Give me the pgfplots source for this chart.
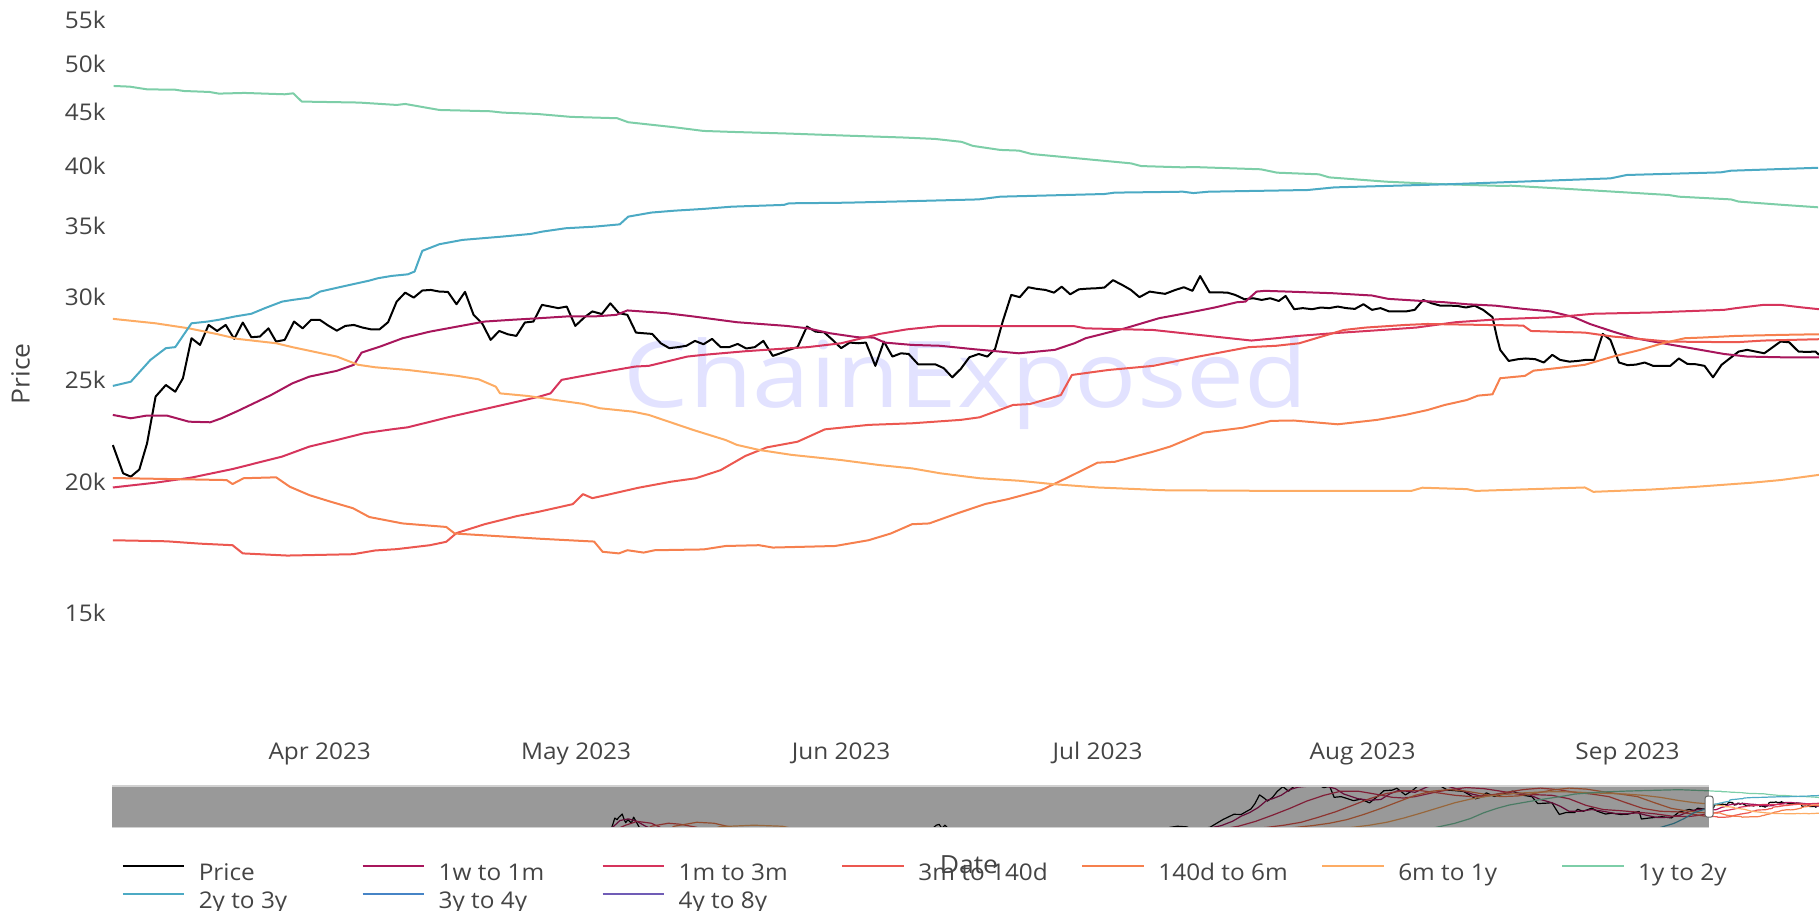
\documentclass[border=0pt]{standalone}
\usepackage{pgfplots}
\pgfplotsset{compat=1.18}
\usepackage{pgfplotstable}
\usepackage{graphicx}
\usepackage{fontspec}
\setmainfont{Open Sans}[FakeStretch=1.06]
\definecolor{txt}{RGB}{68,68,68}
\definecolor{wm}{RGB}{226,226,255}
\definecolor{c1w}{RGB}{168,22,92}
\definecolor{c1m}{RGB}{214,52,92}
\definecolor{c3m}{RGB}{236,88,80}
\definecolor{c140}{RGB}{246,128,78}
\definecolor{c6m}{RGB}{253,172,100}
\definecolor{c1y}{RGB}{125,206,168}
\definecolor{c2y}{RGB}{76,170,196}
\definecolor{c3y}{RGB}{70,132,198}
\definecolor{c4y}{RGB}{112,92,182}

% ---------------- main-range data (day 0 = 1 Apr 2023) ----------------
\pgfplotstableread{
d v
-24.2 21660
-23.0 20360
-22.1 20210
-21.1 20530
-20.2 21740
-19.2 24090
-18.0 24710
-16.9 24350
-16.0 25080
-15.0 27380
-14.0 26980
-13.0 28190
-12.0 27820
-11.0 28190
-10.0 27340
-9.0 28340
-8.0 27440
-7.0 27480
-6.0 27980
-5.1 27180
-4.1 27280
-3.0 28400
-2.0 27980
-1.0 28510
0.0 28510
1.0 28150
2.0 27840
3.0 28130
4.0 28190
5.0 28030
6.0 27920
7.0 27920
8.0 28360
9.0 29670
10.0 30260
11.0 29930
12.0 30400
13.0 30440
14.0 30330
15.0 30310
16.0 29500
17.0 30310
18.0 28820
19.0 28290
20.0 27280
21.0 27820
22.0 27620
23.0 27520
24.0 28340
25.0 28400
26.0 29460
27.0 29350
27.9 29250
28.9 29350
29.9 28130
31.0 28680
31.9 29040
33.0 28870
34.0 29560
35.0 28930
36.0 28820
37.0 27720
37.9 27680
38.9 27640
39.9 27080
40.9 26790
41.9 26850
42.9 26930
43.9 27220
44.9 27020
45.9 27340
46.9 26850
47.9 26850
48.9 27040
49.9 26770
50.9 26850
51.9 27220
53.0 26340
53.9 26490
54.9 26690
55.9 26850
57.0 28090
58.0 27780
59.0 27740
60.0 27280
61.0 26790
62.0 27120
63.0 27080
63.9 27120
65.0 25770
66.0 27180
67.0 26300
68.0 26490
68.9 26450
70.0 25860
71.0 25860
72.0 25860
73.0 25640
74.0 25130
75.0 25600
76.0 26260
77.1 26450
78.1 26300
79.0 26730
79.9 28400
80.9 30110
81.9 29960
82.9 30620
83.9 30510
84.9 30440
85.9 30260
86.8 30660
87.8 30150
88.8 30480
89.9 30530
90.8 30550
91.8 30600
92.8 31100
93.9 30770
94.9 30440
95.9 29960
97.1 30330
97.9 30260
98.9 30180
100.1 30440
101.1 30620
102.1 30380
103.0 31380
104.1 30280
105.1 30280
106.2 30260
107.1 30110
108.2 29820
109.2 29890
110.2 29780
111.2 29890
112.2 29710
113.0 30040
114.0 29180
115.0 29250
116.1 29180
117.1 29290
118.1 29250
119.1 29350
120.1 29250
121.1 29200
122.1 29500
123.1 29140
124.1 29250
125.1 29040
126.1 29040
127.1 29040
128.1 29140
129.1 29780
130.1 29560
131.1 29410
132.1 29410
133.1 29390
134.1 29290
135.1 29410
136.1 29140
137.2 28680
137.7 27480
138.1 26690
139.1 26050
140.2 26150
141.1 26190
142.2 26150
143.2 25960
144.2 26400
145.1 26110
146.2 26010
147.2 26050
148.1 26110
149.1 26110
150.1 27640
151.0 27280
152.0 25960
153.0 25810
154.0 25840
155.0 25960
156.0 25770
157.0 25770
158.0 25770
159.0 26190
160.0 25880
161.0 25860
162.0 25770
163.0 25130
164.0 25830
165.0 26210
166.0 26590
167.0 26690
168.0 26590
169.0 26490
170.0 26850
170.9 27180
171.9 27140
173.0 26590
174.0 26570
175.0 26590
175.4 26400
}\tPrice

\pgfplotstableread{
d v
-24.2 23140
-22.1 22970
-20.2 23110
-17.9 23110
-15.3 22800
-12.8 22770
-11.5 22970
-9.6 23340
-7.7 23740
-5.7 24170
-3.2 24800
-1.2 25170
2.0 25490
4.0 25830
4.9 26530
7.1 26890
9.7 27380
12.9 27780
16.1 28090
19.3 28400
22.5 28510
25.7 28610
28.9 28720
32.1 28720
34.7 28820
36.0 29100
40.5 28930
43.7 28720
48.8 28360
54.6 28130
57.1 27980
59.7 27680
62.9 27440
64.8 27420
66.1 27120
69.3 26980
72.6 26930
76.5 26730
81.8 26490
86.0 26690
88.3 27080
89.6 27380
91.6 27640
94.2 27980
98.2 28610
101.4 28930
104.7 29290
107.3 29630
108.3 29670
109.6 30330
110.6 30380
113.2 30330
118.5 30220
123.1 30070
125.0 29850
129.0 29710
131.6 29630
134.2 29500
137.5 29410
140.8 29200
144.0 29040
146.7 28680
148.6 28250
151.3 27780
153.9 27380
157.1 27080
160.4 26790
164.3 26450
167.0 26300
170.9 26260
175.4 26260
}\tOneW

\pgfplotstableread{
d v
-24.2 19740
-19.2 19950
-15.0 20170
-10.2 20550
-4.4 21120
-1.2 21590
2.0 21900
5.2 22230
8.4 22420
10.3 22520
12.2 22720
15.4 23060
20.6 23570
23.1 23820
25.7 24090
27.0 24260
28.3 24990
30.8 25210
34.0 25490
36.9 25730
38.5 25770
43.0 26300
44.9 26400
49.8 26610
53.3 26730
57.1 26850
61.0 27080
65.5 27640
68.7 27920
72.6 28130
88.3 28110
89.6 27980
97.5 27880
109.0 27240
111.9 27380
114.5 27520
118.5 27680
123.1 27840
128.3 28030
132.9 28360
138.1 28550
144.7 28680
149.0 28890
155.8 28970
164.3 29140
165.7 29250
168.9 29460
170.9 29460
173.5 29290
175.4 29180
}\tOneM

\pgfplotstableread{
d v
-24.2 17580
-17.9 17540
-14.0 17450
-10.2 17390
-9.0 17080
-3.8 17000
3.9 17050
6.5 17190
9.0 17240
12.9 17390
14.8 17520
16.0 17860
19.3 18210
23.1 18540
25.7 18720
29.6 19030
30.8 19450
31.9 19280
34.0 19450
37.3 19730
41.1 19990
44.0 20140
46.9 20500
49.8 21150
52.3 21550
55.9 21820
59.1 22420
64.2 22640
69.3 22720
75.0 22890
77.2 23020
81.1 23650
83.1 23700
86.7 24170
88.0 25260
92.3 25540
97.5 25770
102.8 26300
108.7 26850
111.9 26930
114.6 27080
119.8 27880
122.4 28030
127.0 28190
129.6 28250
140.8 28150
141.7 27820
148.0 27720
151.3 27480
157.8 27180
165.7 27140
168.9 27240
175.4 27320
}\tThreeM

\pgfplotstableread{
d v
-24.2 20150
-10.9 20060
-10.2 19890
-8.9 20140
-5.1 20180
-3.5 19770
-1.2 19410
1.3 19130
3.9 18860
5.8 18500
9.7 18240
14.8 18100
15.8 17840
19.3 17770
25.7 17640
32.1 17530
33.1 17140
35.0 17080
36.0 17200
37.9 17110
39.2 17200
44.9 17230
47.5 17360
51.4 17390
53.0 17300
60.3 17360
64.2 17580
66.8 17840
69.3 18210
71.3 18240
74.6 18650
77.9 19040
80.5 19240
84.4 19620
87.7 20210
91.0 20840
93.0 20880
97.5 21350
99.5 21590
103.4 22260
108.0 22500
111.3 22840
113.9 22860
119.1 22670
123.7 22890
127.0 23140
129.6 23390
131.6 23650
134.2 23910
135.5 24140
137.2 24210
138.1 25080
141.0 25210
142.0 25500
144.7 25640
148.0 25830
151.3 26300
154.5 26690
157.1 27080
159.7 27380
161.7 27420
165.7 27520
170.9 27580
175.4 27620
}\tOneForty

\pgfplotstableread{
d v
-24.2 28570
-19.2 28290
-15.3 27980
-12.1 27640
-9.6 27340
-5.1 27080
-3.2 26850
2.0 26300
4.5 25830
6.5 25690
10.3 25540
16.1 25210
18.6 25020
20.6 24620
21.1 24260
24.4 24120
27.6 23910
30.8 23710
32.8 23480
36.6 23310
38.5 23140
43.7 22390
47.5 21900
48.8 21670
51.4 21430
55.2 21200
61.0 20960
65.5 20730
69.3 20580
72.6 20360
77.2 20140
81.8 20030
85.7 19890
91.0 19740
98.8 19620
112.0 19590
127.7 19590
129.0 19730
134.2 19670
135.2 19590
148.0 19740
149.0 19550
155.8 19650
161.1 19770
167.6 19950
170.9 20060
175.4 20290
}\tSixM

\pgfplotstableread{
d v
-24.1 47610
-22.2 47540
-20.2 47260
-16.9 47220
-15.9 47090
-12.9 46990
-11.8 46820
-8.8 46890
-4.1 46750
-3.1 46850
-2.1 46010
4.6 45910
9.0 45670
10.0 45770
14.0 45170
20.0 45040
21.4 44910
25.4 44780
29.4 44490
34.8 44360
36.1 43970
41.5 43490
44.9 43140
48.2 43050
54.9 42890
61.6 42700
68.4 42520
72.0 42390
75.1 42120
76.4 41750
79.6 41380
81.8 41320
83.3 41010
94.9 40180
96.1 39950
101.0 39830
102.2 39860
110.1 39660
112.0 39370
116.9 39230
118.1 38970
124.8 38600
130.9 38400
138.2 38240
139.4 38260
146.8 37960
157.8 37490
159.0 37350
165.1 37130
166.0 36950
171.2 36680
175.3 36490
}\tOneY

\pgfplotstableread{
d v
-24.2 24660
-22.1 24890
-19.8 26110
-18.0 26790
-16.9 26850
-15.0 28290
-13.1 28400
-11.8 28510
-9.9 28720
-8.0 28890
-6.4 29250
-4.4 29670
-3.2 29780
-1.2 29930
0.05 30330
2.6 30660
5.8 31070
6.8 31230
8.4 31390
10.3 31500
11.1 31690
11.6 32510
12.0 33160
14.0 33650
16.7 33970
21.4 34220
24.7 34420
26.1 34600
28.8 34850
32.1 34970
35.1 35150
36.1 35750
38.8 36070
41.5 36220
44.9 36360
48.2 36540
54.3 36680
54.9 36810
61.6 36860
68.4 36970
77.1 37130
79.6 37350
91.8 37570
93.0 37680
101.0 37760
102.2 37650
104.0 37760
115.6 37900
118.7 38120
132.7 38400
151.0 38880
152.9 39170
163.9 39400
165.1 39540
175.3 39800
}\tTwoY

% ---------------- history shown in the range slider ----------------
\pgfplotstableread{
d v
-2000 7000
-1960 8000
-1950 10900
-1944 16500
-1940 15500
-1937 17000
-1931 19300
-1928 16000
-1925 13800
-1921 15500
-1915 13500
-1911 17100
-1905 13500
-1900 11000
-1880 9000
-1800 6500
-1500 6000
-1400 8500
-1380 12500
-1375 12900
-1370 11000
-1365 12500
-1360 11200
-1340 10000
-1200 7500
-1100 9000
-1000 9500
-970 11500
-957 12000
-940 11700
-930 10500
-900 11500
-892 12800
-877 15600
-858 19100
-845 19000
-836 21300
-828 23500
-821 29000
-813 40700
-805 36000
-799 32000
-790 37000
-782 46400
-772 56000
-762 47000
-749 61000
-720 58000
-717 63500
-700 54000
-690 57000
-682 37000
-670 38000
-660 35500
-648 32500
-635 34500
-620 29800
-605 39000
-595 47800
-580 49000
-572 52700
-557 40600
-545 48000
-528 66000
-515 61000
-507 68000
-495 57000
-483 49000
-470 48000
-455 46500
-445 41000
-434 35000
-425 37000
-415 44000
-401 38300
-385 42000
-369 47100
-350 40000
-335 38000
-325 29000
-310 29500
-300 30000
-292 22500
-287 19000
-275 20500
-260 20500
-255 23200
-245 21500
-230 24300
-220 21500
-206 19300
-195 20000
-180 19000
-168 19100
-155 20500
-147 21300
-143 15900
-130 16500
-107 17400
-95 16800
-90 16600
-77 20900
-59 23100
-50 22000
-44 24300
-35 23500
-31 23600
-28 22400
-24.2 21660
}\hPrice

\pgfplotstableread{
d v
-1960 9000
-1935 15000
-1920 16000
-1905 14500
-1890 12000
-1875 10500
-1850 9000
-960 10500
-940 11200
-920 11300
-900 11200
-880 12300
-860 14600
-845 17800
-830 20500
-815 25000
-800 33000
-790 35000
-775 40000
-760 50000
-745 55000
-720 58000
-700 58000
-680 52000
-665 42000
-640 35000
-620 33000
-600 34000
-585 42000
-570 48000
-555 47000
-540 45000
-520 55000
-500 62000
-480 56000
-460 49000
-440 42000
-420 38000
-400 41000
-380 42000
-360 44000
-340 41000
-320 34000
-300 30000
-285 26000
-270 21500
-250 21500
-230 23000
-210 21500
-190 19800
-170 19500
-150 20200
-135 18500
-115 16800
-95 17000
-75 18500
-55 22000
-40 23200
-24.2 23140
}\hOneW

\pgfplotstableread{
d v
-1960 9000
-1925 12500
-1905 14500
-1880 13500
-1860 11000
-1840 9000
-880 10800
-850 12000
-820 14500
-790 18500
-760 24000
-730 32000
-700 40000
-670 47000
-640 47000
-610 42000
-580 37000
-560 36000
-540 38000
-510 44000
-480 50000
-450 54000
-420 52000
-390 47000
-360 42000
-330 41000
-300 40000
-270 35000
-240 27000
-210 23000
-180 22000
-150 20800
-120 19500
-90 17800
-60 17500
-40 18500
-24.2 19740
}\hOneM

\pgfplotstableread{
d v
-1900 9000
-1880 12000
-1850 13500
-1830 13000
-1800 11500
-1780 9500
-830 10800
-800 11500
-770 12500
-740 14000
-710 17000
-680 21000
-650 27000
-620 35000
-590 43000
-560 48000
-530 48000
-500 44000
-470 40000
-440 38000
-410 40000
-380 45000
-350 50000
-320 53000
-290 50000
-260 45000
-230 42000
-200 38000
-170 30000
-140 24000
-110 21500
-80 21000
-50 19000
-35 18000
-24.2 17580
}\hThreeM

\pgfplotstableread{
d v
-1860 9000
-1840 12000
-1800 14000
-1770 13500
-1730 11000
-1700 9500
-780 10800
-750 11500
-720 12300
-690 13500
-660 15500
-630 19000
-600 24000
-570 31000
-540 40000
-510 47000
-480 50000
-450 47000
-420 42000
-390 38000
-360 39000
-330 43000
-300 49000
-270 53000
-240 51000
-210 46000
-180 42000
-150 38000
-120 30000
-90 24000
-60 21500
-40 20500
-24.2 20150
}\hOneForty

\pgfplotstableread{
d v
-1800 9000
-1760 11800
-1700 12500
-1650 12000
-1600 9500
-650 11500
-620 12500
-590 14000
-560 16500
-530 20000
-500 24500
-470 30000
-440 35000
-410 39000
-380 42000
-350 44000
-320 45500
-290 46000
-260 45500
-230 44000
-200 43000
-170 42000
-140 40000
-110 37000
-80 33000
-50 30000
-24.2 28570
}\hSixM

\pgfplotstableread{
d v
-540 10000
-503 11500
-471 13400
-443 16200
-420 20200
-397 24000
-375 27400
-352 30000
-324 33400
-306 35500
-279 38900
-260 42000
-214 45400
-169 47200
-123 48500
-77 49800
-24.1 47610
}\hOneY

\pgfplotstableread{
d v
-130 10000
-109 11500
-86 13400
-68 16200
-50 20500
-24.2 24660
}\hTwoY

\newcommand{\LE}[1]{\makebox[88.2pt][l]{\hspace{6.75pt}#1}}

\begin{document}
\begin{tikzpicture}[font=\fontsize{11.5pt}{13.8pt}\selectfont]
\useasboundingbox (0,0) rectangle (909.5pt,455pt);
\node[anchor=base, text=wm, inner sep=0pt] at (482.9pt,251pt)
  {\scalebox{1.06}[1]{\fontsize{46pt}{52pt}\selectfont ChainExposed}};

\begin{axis}[
  at={(56pt,88.5pt)}, anchor=south west, scale only axis,
  width=853.5pt, height=366.5pt,
  xmin=-24.3, xmax=175.4,
  ymode=log, ymin=11520, ymax=57500,
  axis lines*=left, axis line style={draw=none}, tick style={draw=none},
  xtick={0,30,61,91,122,153},
  xticklabels={Apr 2023,May 2023,Jun 2023,Jul 2023,Aug 2023,Sep 2023},
  ytick={15000,20000,25000,30000,35000,40000,45000,50000,55000},
  yticklabels={15k,20k,25k,30k,35k,40k,45k,50k,55k},
  tick label style={font=\fontsize{11.5pt}{13.8pt}\selectfont, text=txt},
  xticklabel style={anchor=base, yshift=-13.1pt, inner sep=0pt},
  yticklabel style={anchor=east, xshift=-3pt, inner sep=0pt},
  xlabel={Date}, ylabel={Price},
  xlabel style={at={(axis description cs:0.502,-0.180)}, anchor=center, text=txt, font=\fontsize{12.5pt}{15pt}\selectfont},
  ylabel style={at={(axis description cs:-0.0535,0.49)}, anchor=center, text=txt, font=\fontsize{12.5pt}{15pt}\selectfont},
  legend columns=7,
  legend cell align=left,
  legend image code/.code={\draw[#1] (0pt,4.3pt) -- (30.75pt,4.3pt);},
  legend style={at={(axis description cs:0.00574,-0.1774)}, anchor=north west,
    draw=none, fill=none, inner sep=0pt, outer sep=0pt,
    column sep=0pt, row sep=2.8pt,
    nodes={inner sep=0pt, text height=8.6pt, text depth=2.6pt, text=txt},
    font=\fontsize{11.5pt}{13.8pt}\selectfont},
  every axis plot/.append style={line width=1pt, line join=round},
]
\addplot[black] table[x=d,y=v] {\tPrice}; \addlegendentry{\LE{Price}}
\addplot[c1w] table[x=d,y=v] {\tOneW}; \addlegendentry{\LE{1w to 1m}}
\addplot[c1m] table[x=d,y=v] {\tOneM}; \addlegendentry{\LE{1m to 3m}}
\addplot[c3m] table[x=d,y=v] {\tThreeM}; \addlegendentry{\LE{3m to 140d}}
\addplot[c140] table[x=d,y=v] {\tOneForty}; \addlegendentry{\LE{140d to 6m}}
\addplot[c6m] table[x=d,y=v] {\tSixM}; \addlegendentry{\LE{6m to 1y}}
\addplot[c1y] table[x=d,y=v] {\tOneY}; \addlegendentry{\LE{1y to 2y}}
\addplot[c2y] table[x=d,y=v] {\tTwoY}; \addlegendentry{\LE{2y to 3y}}
\addlegendimage{c3y, line width=1pt} \addlegendentry{\LE{3y to 4y}}
\addlegendimage{c4y, line width=1pt} \addlegendentry{\LE{4y to 8y}}
\end{axis}

% range slider
\begin{axis}[
  at={(56pt,41.35pt)}, anchor=south west, scale only axis,
  width=853.5pt, height=20.65pt,
  xmin=-2826.1, xmax=168.6,
  ymode=log, ymin=11520, ymax=57500,
  hide axis, clip=true,
  every axis plot/.append style={line width=0.6pt, line join=round},
]
\addplot[black] table[x=d,y=v] {\hPrice};
\addplot[black] table[x=d,y=v] {\tPrice};
\addplot[c1w] table[x=d,y=v] {\hOneW};
\addplot[c1w] table[x=d,y=v] {\tOneW};
\addplot[c1m] table[x=d,y=v] {\hOneM};
\addplot[c1m] table[x=d,y=v] {\tOneM};
\addplot[c3m] table[x=d,y=v] {\hThreeM};
\addplot[c3m] table[x=d,y=v] {\tThreeM};
\addplot[c140] table[x=d,y=v] {\hOneForty};
\addplot[c140] table[x=d,y=v] {\tOneForty};
\addplot[c6m] table[x=d,y=v] {\hSixM};
\addplot[c6m] table[x=d,y=v] {\tSixM};
\addplot[c1y] table[x=d,y=v] {\hOneY};
\addplot[c1y] table[x=d,y=v] {\tOneY};
\addplot[c2y] table[x=d,y=v] {\hTwoY};
\addplot[c2y] table[x=d,y=v] {\tTwoY};
\fill[black, opacity=0.4] (axis cs:-2826.1,11520) rectangle (axis cs:-24.3,57500);
\draw[black!18, line width=0.6pt] (axis cs:-2826.1,57500) -- (axis cs:-24.3,57500);
\draw[black!18, line width=0.6pt] (axis cs:-2826.1,11520) -- (axis cs:-24.3,11520);
\node[draw=black!60, fill=white, rounded corners=1.2pt, line width=0.5pt,
      minimum width=4pt, minimum height=10.5pt, inner sep=0pt] at (axis cs:-24.3,25740) {};
\end{axis}
\end{tikzpicture}
\end{document}
